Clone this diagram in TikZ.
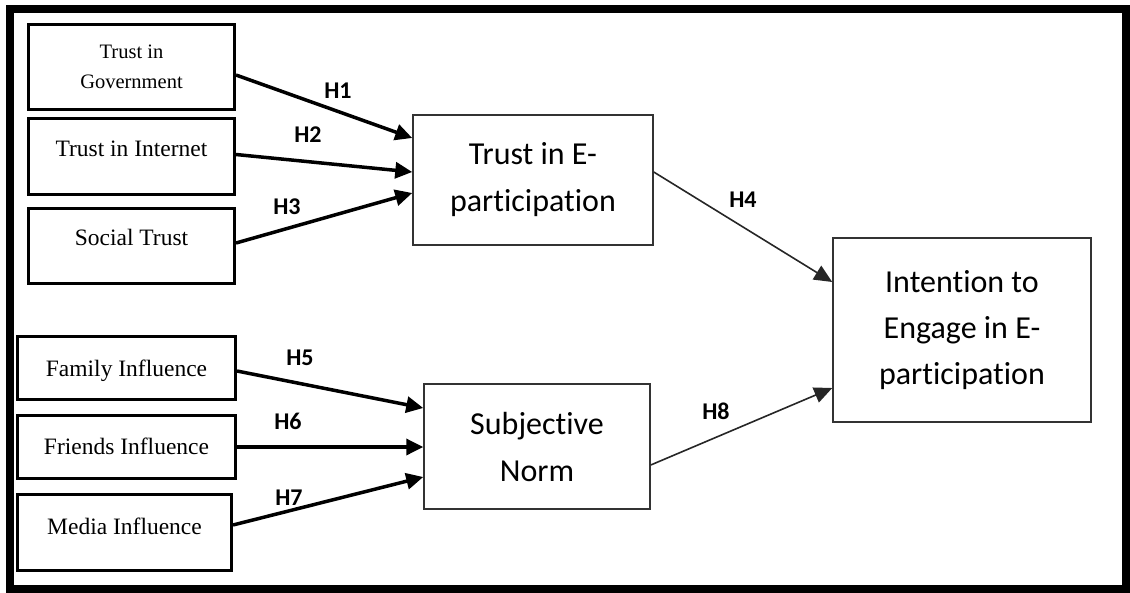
\documentclass[tikz,border=0pt]{standalone}
\usepackage{fontspec}
\setmainfont{Liberation Serif}
\newfontfamily\calfont[Ligatures=NoCommon]{Carlito}
\usetikzlibrary{arrows.meta,calc}
\begin{document}
\begin{tikzpicture}[x=1pt,y=-1pt,
  lboxbase/.style={draw=black, line width=3pt, align=center, inner sep=0pt},
  lbox/.style={lboxbase, font=\fontsize{23.5}{28}\selectfont,
    text height=17pt, text depth=#1},
  lbox/.default=1.4pt,
  mbox/.style={draw=black!80, line width=1.5pt, align=center, inner sep=0pt,
    font=\calfont\fontsize{32}{47}\selectfont},
  boldlink/.style={draw=black, line width=3.5pt, -{Triangle[length=17pt,width=16pt]}},
  thinlink/.style={draw=black!85, line width=1.6pt, -{Triangle[length=18pt,width=16pt]}},
  hyp/.style={font=\calfont\bfseries\fontsize{24}{28}\selectfont, inner sep=0pt}
]
\useasboundingbox (0,0) rectangle (1130,592);

% outer frame
\draw[line width=8pt] (9.5,9) rectangle (1126,588.5);

% antecedents of trust
\node[lboxbase, font=\fontsize{20.5}{29.5}\selectfont,
      minimum width=206pt, minimum height=85pt] (tg) at (131.5,67) {Trust in\\Government};
\node[lbox=17.4pt, minimum width=206pt, minimum height=76pt] (ti) at (131.5,156.5) {Trust in Internet};
\node[lbox=17.4pt, minimum width=206pt, minimum height=75pt] (st) at (131.5,246) {Social Trust};

% antecedents of subjective norm
\node[lbox=0pt, minimum width=218pt, minimum height=63pt] (fa) at (126.5,368) {Family Influence};
\node[lbox, minimum width=218pt, minimum height=63pt] (fr) at (126.5,447) {Friends Influence};
\node[lbox=13.4pt, minimum width=214pt, minimum height=76pt] (me) at (124.5,532.5) {Media Influence};

% mediating constructs
\node[mbox, minimum width=240pt, minimum height=130pt] (te) at (533,180) {Trust in E-\\participation};
\node[mbox, minimum width=226pt, minimum height=125pt] (sn) at (537,446.5) {Subjective\\Norm};

% outcome
\node[mbox, font=\calfont\fontsize{32}{46}\selectfont,
      minimum width=258pt, minimum height=184pt] (ie) at (962,330) {Intention to\\Engage in E-\\participation};

% hypothesised paths
\draw[boldlink] ($(tg.east)+(0,8)$) -- ($(te.west)+(0,-42)$);
\draw[boldlink] ($(ti.east)+(0,-2)$) -- ($(te.west)+(0,-8)$);
\draw[boldlink] ($(st.east)+(0,-3)$) -- ($(te.west)+(0,13)$);
\draw[boldlink] ($(fa.east)+(0,3)$) -- ($(sn.west)+(0,-38.5)$);
\draw[boldlink] (fr.east) -- ($(sn.west)+(0,0.5)$);
\draw[boldlink] ($(me.east)+(0,-7.5)$) -- ($(sn.west)+(0,30.5)$);
\draw[thinlink] ($(te.east)+(0,-8)$) -- ($(ie.west)+(0,-48)$);
\draw[thinlink] ($(sn.east)+(0,18.5)$) -- ($(ie.west)+(0,58)$);

% path labels
\node[hyp] (h1) at (338,91) {H1};
\node[hyp] (h2) at (308,135) {H2};
\node[hyp] (h3) at (287,207) {H3};
\node[hyp] (h4) at (743,200) {H4};
\node[hyp] (h5) at (300,357.5) {H5};
\node[hyp] (h6) at (288,421.5) {H6};
\node[hyp] (h7) at (289,497.5) {H7};
\node[hyp] (h8) at (716,411.5) {H8};
\end{tikzpicture}
\end{document}
